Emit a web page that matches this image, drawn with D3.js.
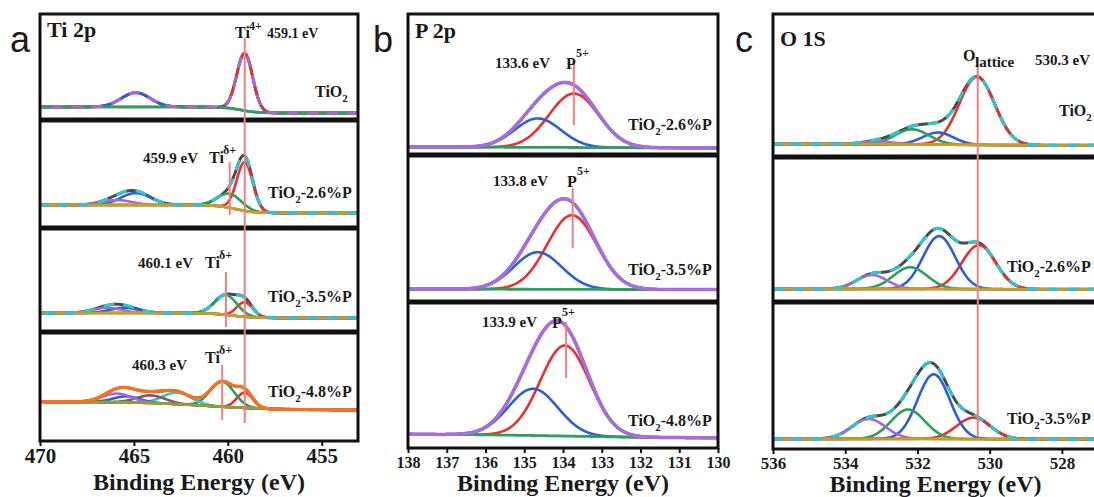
<!DOCTYPE html>
<html>
<head>
<meta charset="utf-8">
<script src="https://cdn.jsdelivr.net/npm/d3@7"></script>
<style>
  body { margin: 0; background: #fff; }
  svg text { font-family: "Liberation Serif", "Times New Roman", serif; font-weight: bold; fill: #1a1a1a; }
</style>
</head>
<body>
<svg id="chart" width="1094" height="497"></svg>
<script>

// ---- data ----
var tiTicks = [470, 465, 460, 455]
var pTicks = [138, 137, 136, 135, 134, 133, 132, 131, 130]
var oTicks = [536, 534, 532, 530, 528]

var tiSamples = ["TiO2", "TiO2-2.6%P", "TiO2-3.5%P", "TiO2-4.8%P"]
var pSamples = ["TiO2-2.6%P", "TiO2-3.5%P", "TiO2-4.8%P"]
var oSamples = ["TiO2", "TiO2-2.6%P", "TiO2-3.5%P"]

// fitted components: [name, centre (eV), height (% of strip), FWHM (eV)]
var tiPeaks = [
    [["Ti4+ 2p3/2", 459.1, 54, 1.0], ["Ti4+ 2p1/2", 464.9, 13.5, 1.8]],
    [["Ti4+ 2p3/2", 459.1, 45, 1.0], ["Tid+ 2p3/2", 459.9, 13, 1.5], ["Ti4+ 2p1/2", 464.9, 11, 1.9], ["Tid+ 2p1/2", 465.9, 4.5, 1.9]],
    [["Ti4+ 2p3/2", 459.1, 14, 1.0], ["Tid+ 2p3/2", 460.1, 19, 1.4], ["Ti4+ 2p1/2", 465.5, 5, 1.8], ["Tid+ 2p1/2", 466.4, 5, 1.8]],
    [["Ti4+ 2p3/2", 459.1, 14, 1.0], ["Tid+ 2p3/2", 460.3, 23, 1.5], ["sat 1", 462.7, 10.5, 1.8], ["sat 2", 464.1, 7, 1.8], ["Ti4+ 2p1/2", 465.4, 5.5, 1.7], ["Tid+ 2p1/2", 465.9, 8, 1.8]]
]
var pPeaks = [
    [["P 2p3/2", 133.72, 38.3, 1.5], ["P 2p1/2", 134.65, 20.5, 1.4]],
    [["P 2p3/2", 133.77, 50.4, 1.5], ["P 2p1/2", 134.65, 25.2, 1.45]],
    [["P 2p3/2", 133.95, 62, 1.5], ["P 2p1/2", 134.77, 32, 1.5]]
]
var oPeaks = [
    [["O lattice", 530.35, 47.5, 1.15], ["P-O", 531.43, 8.4, 1.0], ["O-H", 532.15, 10.5, 1.1], ["H2O", 533.1, 2, 1.0]],
    [["O lattice", 530.3, 30.3, 1.1], ["P-O", 531.4, 36.5, 1.05], ["O-H", 532.2, 15, 1.1], ["H2O", 533.26, 9.6, 1.0]],
    [["O lattice", 530.45, 14.5, 1.1], ["P-O", 531.55, 44, 1.05], ["O-H", 532.26, 20, 1.1], ["H2O", 533.35, 13.5, 1.1]]
]

// background: [level high-BE side, level low-BE side, step centre (eV), step width (eV)]
var tiBackground = [[12.3, 6.6, 459.3, 0.45], [21.3, 13.9, 459.6, 0.5], [18.3, 13.5, 459.8, 0.6], [36, 28.4, 461, 1.8]]
var pBackground = [[5.7, 5.0, 134, 1.5], [8.8, 8.4, 134, 1.5], [9.6, 6.8, 134, 1.5]]
var oBackground = [[9.0, 8.2, 531, 0.8], [9.0, 8.8, 531, 0.8], [6.9, 6.7, 531, 0.8]]

// marked peak positions (eV)
var tiLines = [459.1, 459.9, 460.1, 460.3]
var tiLineLabels = ["459.1 eV", "459.9 eV", "460.1 eV", "460.3 eV"]
var pLines = [133.72, 133.75, 133.92]
var pLineLabels = ["133.6 eV", "133.8 eV", "133.9 eV"]
var oLines = [530.33]
var oLineLabels = ["530.3 eV"]

// ---- drawing ----
var svg = d3.select("#chart")

var compColour = d3.scaleOrdinal()
    .domain(["Ti4+ 2p3/2", "Ti4+ 2p1/2", "Tid+ 2p3/2", "Tid+ 2p1/2", "sat 1", "sat 2",
             "P 2p3/2", "P 2p1/2", "O lattice", "P-O", "O-H", "H2O"])
    .range(["#e8302e", "#2a5fd8", "#2aa05a", "#a56ad8", "#2cc6cc", "#7b5a72",
            "#e8302e", "#2a5fd8", "#e8302e", "#2a5fd8", "#2aa05a", "#a56ad8"])

var gauss = function(p, e) {
    return p[2] * Math.exp(-4 * Math.LN2 * Math.pow(e - p[1], 2) / (p[3] * p[3]))
}
var bgAt = function(b, e) {
    return b[1] + (b[0] - b[1]) / (1 + Math.exp(-(e - b[2]) / b[3]))
}

function sampleLabel(g, x, y, name) {
    var t = g.append("text").attr("x", x).attr("y", y).attr("font-size", 16)
    t.append("tspan").text("TiO")
    t.append("tspan").attr("font-size", 11).attr("dy", 5).text("2")
    if (name.length > 4) t.append("tspan").attr("dy", -5).text(name.slice(4))
}

function drawPanel(cfg) {
    var x = d3.scaleLinear().domain(cfg.domain).range(cfg.range)
    var left = cfg.range[0], right = cfg.range[1]
    var top = cfg.bands[0], bottom = cfg.bands[cfg.bands.length - 1]
    var g = svg.append("g")

    g.append("clipPath").attr("id", "clip-" + cfg.id)
      .append("rect")
        .attr("x", left).attr("y", top)
        .attr("width", right - left).attr("height", bottom - top)

    var plot = g.append("g").attr("clip-path", "url(#clip-" + cfg.id + ")")
    var energies = d3.range(cfg.domain[1], cfg.domain[0] + 0.001, 0.02)

    cfg.peaks.forEach(function(peaks, i) {
        var y = d3.scaleLinear().domain([0, 100]).range([cfg.bands[i + 1], cfg.bands[i]])
        var bg = cfg.background[i]
        var st = cfg.styles[i]
        var line = d3.line()
            .x(function(d) { return x(d[0]) })
            .y(function(d) { return y(d[1]) })

        var envPts = energies.map(function(e) {
            return [e, bgAt(bg, e) + d3.sum(peaks, function(p) { return gauss(p, e) })]
        })

        // raw spectrum (dark) under everything
        plot.append("path").datum(envPts).attr("d", line)
            .attr("fill", "none").attr("stroke", "#4a4a4a").attr("stroke-width", 3)

        peaks.forEach(function(p) {
            plot.append("path")
                .datum(energies.map(function(e) { return [e, bgAt(bg, e) + gauss(p, e)] }))
                .attr("d", line)
                .attr("fill", "none")
                .attr("stroke", compColour(p[0]))
                .attr("stroke-width", 2.6)
        })

        plot.append("path")
            .datum(energies.map(function(e) { return [e, bgAt(bg, e)] }))
            .attr("d", line)
            .attr("fill", "none").attr("stroke", st.bg).attr("stroke-width", 2.8)

        plot.append("path").datum(envPts).attr("d", line)
            .attr("fill", "none")
            .attr("stroke", st.env)
            .attr("stroke-width", st.w || 3)
            .attr("stroke-dasharray", st.dash || null)
    })

    // frame and strip separators
    g.append("rect")
        .attr("x", left).attr("y", top)
        .attr("width", right - left).attr("height", bottom - top)
        .attr("fill", "none").attr("stroke", "#111").attr("stroke-width", 3)
    cfg.bands.slice(1, -1).forEach(function(b) {
        g.append("line")
            .attr("x1", left).attr("x2", right).attr("y1", b).attr("y2", b)
            .attr("stroke", "#111").attr("stroke-width", 5)
    })

    // axis
    var ax = g.append("g")
        .attr("transform", "translate(0," + bottom + ")")
        .call(d3.axisBottom(x).tickValues(cfg.ticks).tickSize(5).tickPadding(cfg.pad))
    ax.select(".domain").remove()
    ax.selectAll(".tick line").attr("stroke", "#111").attr("stroke-width", 2)
    ax.selectAll(".tick text")
        .attr("font-family", "Liberation Serif, serif")
        .attr("font-weight", "bold")
        .attr("font-size", cfg.tickFont)
        .attr("fill", "#1a1a1a")

    g.append("text")
        .attr("x", (left + right) / 2).attr("y", cfg.titleY)
        .attr("text-anchor", "middle").attr("font-size", 24)
        .text("Binding Energy (eV)")

    g.append("text")
        .attr("x", cfg.letterX).attr("y", 52)
        .style("font-family", "Liberation Sans, Arial, sans-serif")
        .style("font-weight", "normal")
        .attr("font-size", 36)
        .text(cfg.letter)

    g.append("text")
        .attr("x", left + 7).attr("y", cfg.headY)
        .attr("font-size", 22)
        .text(cfg.head)

    cfg.samples.forEach(function(s, i) {
        sampleLabel(g, cfg.sampleX[i], cfg.sampleY[i], s)
    })

    return { g: g, x: x }
}

function marker(g, x, e, y1, y2) {
    g.append("line")
        .attr("x1", x(e)).attr("x2", x(e)).attr("y1", y1).attr("y2", y2)
        .attr("stroke", "#f27f7f").attr("stroke-width", 2)
}

// panel a
var pa = drawPanel({
    id: "a", letter: "a", letterX: 10, head: "Ti 2p", headY: 37,
    domain: [470, 453.07], range: [40, 358], bands: [14, 120, 228, 332, 441],
    ticks: tiTicks, tickFont: 21, pad: 2, titleY: 490,
    peaks: tiPeaks, background: tiBackground,
    styles: [
        { env: "#a56ad8", bg: "#2aa05a", dash: "11,9" },
        { env: "#2cc6cc", bg: "#c9a018", dash: "11,9" },
        { env: "#2cc6cc", bg: "#c9a018", dash: "11,9" },
        { env: "#ff6f1a", bg: "#9c9c2a", w: 3.2 }
    ],
    samples: tiSamples, sampleX: [315, 268, 268, 268], sampleY: [97, 198, 302, 397]
})
marker(pa.g, pa.x, tiLines[0], 38, 423)
marker(pa.g, pa.x, tiLines[1], 162, 215)
marker(pa.g, pa.x, tiLines[2], 272, 327)
marker(pa.g, pa.x, tiLines[3], 365, 420)
pa.g.append("text").attr("x", 235).attr("y", 38).attr("font-size", 16).text("Ti")
pa.g.append("text").attr("x", 249).attr("y", 30).attr("font-size", 12).text("4+")
pa.g.append("text").attr("x", 267).attr("y", 38).attr("font-size", 14).text(tiLineLabels[0])
var deltaY = [163, 268, 363]
var deltaLabelY = [163, 268, 370]
var deltaLabelX = [143, 138, 132]
var deltaTiX = [209, 205, 205]
deltaY.forEach(function(yy, i) {
    pa.g.append("text").attr("x", deltaLabelX[i]).attr("y", deltaLabelY[i]).attr("font-size", 15).text(tiLineLabels[i + 1])
    pa.g.append("text").attr("x", deltaTiX[i]).attr("y", yy).attr("font-size", 16).text("Ti")
    pa.g.append("text").attr("x", deltaTiX[i] + 14).attr("y", yy - 9).attr("font-size", 12).text("\u03b4+")
})

// panel b
var pb = drawPanel({
    id: "b", letter: "b", letterX: 373, head: "P 2p", headY: 38,
    domain: [138, 130], range: [408, 718], bands: [14, 155, 302, 448],
    ticks: pTicks, tickFont: 16, pad: 4, titleY: 491,
    peaks: pPeaks, background: pBackground,
    styles: [
        { env: "#a66de0", bg: "#2aa05a", w: 3.5 },
        { env: "#a66de0", bg: "#2aa05a", w: 3.5 },
        { env: "#a66de0", bg: "#2aa05a", w: 3.5 }
    ],
    samples: pSamples, sampleX: [628, 628, 628], sampleY: [130, 275, 426]
})
var pLineY = [[63, 125], [188, 248], [322, 378]]
var pLabelX = [495, 493, 482]
var pLabelY = [68, 186, 327]
var pPX = [566, 567, 552]
pLines.forEach(function(e, i) {
    marker(pb.g, pb.x, e, pLineY[i][0], pLineY[i][1])
    pb.g.append("text").attr("x", pLabelX[i]).attr("y", pLabelY[i]).attr("font-size", 15).text(pLineLabels[i])
    pb.g.append("text").attr("x", pPX[i]).attr("y", pLabelY[i] + 1).attr("font-size", 16).text("P")
    pb.g.append("text").attr("x", pPX[i] + 10).attr("y", pLabelY[i] - 11).attr("font-size", 12).text("5+")
})

// panel c
var pc = drawPanel({
    id: "c", letter: "c", letterX: 735, head: "O 1S", headY: 46,
    domain: [536, 527], range: [773, 1098], bands: [14, 157, 302, 449],
    ticks: oTicks, tickFont: 17, pad: 3, titleY: 492,
    peaks: oPeaks, background: oBackground,
    styles: [
        { env: "#2cc6cc", bg: "#c9a018", dash: "11,9" },
        { env: "#2cc6cc", bg: "#c9a018", dash: "11,9" },
        { env: "#2cc6cc", bg: "#c9a018", dash: "11,9" }
    ],
    samples: oSamples, sampleX: [1059, 1007, 1007], sampleY: [116, 272, 424]
})
marker(pc.g, pc.x, oLines[0], 57, 437)
pc.g.append("text").attr("x", 963).attr("y", 61).attr("font-size", 16).text("O")
pc.g.append("text").attr("x", 975).attr("y", 67).attr("font-size", 15).text("lattice")
pc.g.append("text").attr("x", 1035).attr("y", 65).attr("font-size", 15).text(oLineLabels[0])

</script>
</body>
</html>
